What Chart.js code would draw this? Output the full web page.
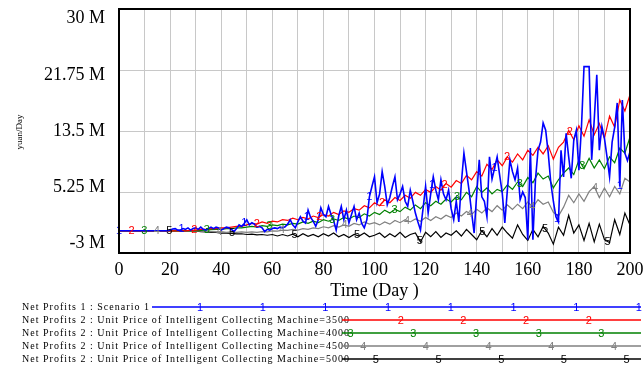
<!DOCTYPE html>
<html>
<head>
<meta charset="utf-8">
<script src="https://cdn.jsdelivr.net/npm/chart.js@4/dist/chart.umd.min.js"></script>
<style>
  html, body { margin: 0; padding: 0; background: #fff; }
  canvas { display: block; }
</style>
</head>
<body>
<canvas id="vensimChart" width="644" height="367"></canvas>
<script>
// Time axis: scenario 1 was read day by day, the others every 2 days
const daysDaily = Array.from({ length: 201 }, (_, i) => i);
const daysEvery2 = Array.from({ length: 101 }, (_, i) => i * 2);

const xGrid = [0, 10, 20, 30, 40, 50, 60, 70, 80, 90, 100, 110, 120, 130, 140, 150, 160, 170, 180, 190, 200];
const xTickLabels = [0, 20, 40, 60, 80, 100, 120, 140, 160, 180, 200];
const yTicks = [-3, 5.25, 13.5, 21.75, 30];

// values in millions of yuan/Day
const scenario1 = [
  0, 0, 0, 0, 0, 0, 0, 0, 0, 0, 0, 0, 0, 0, 0, 0, 0, 0, 0, 0,
  0.1, 0.25, 0.3, 0.1, 0.1, 0.3, 0.2, 0.4, 0.1, 0.3,
  0.4, 0.2, 0.5, 0.2, 0.1, 0.3, 0.5, 0.3, 0.5, 0.4,
  0.1, 0.3, 0.5, 0.4, 0.2, -0.1, 0.3, 0.8, 0.6, 1.0,
  1.5, 0.8, 1.1, 0.9, 0.5, 0.6, 0.4, -0.1, 0.2, 0.1,
  0.3, 0.4, 0.3, 0.5, 0.4, 0.55, 0.9, 1.5, 0.8, 0.4,
  1.2, 1.9, 1.3, 1.05, 2.8, 1.8, 1.3, 0.6, 1.5, 3.1,
  2.2, 1.9, 3.3, 2.2, 1.4, 0.1, 2.0, 3.3, 1.5, 2.8,
  1.05, 2.2, 3.3, 1.5, 2.4, 1.0, 0.4, 1.5, 4.6, 6.0,
  7.3, 3.8, 5.0, 8.0, 6.0, 3.5, 4.5, 6.0, 7.3, 4.2,
  5.0, 6.0, 4.0, 3.3, 5.5, 4.0, 2.4, 1.2, 0.1, 3.0,
  6.0, 2.4, 5.0, 7.3, 5.5, 4.2, 6.9, 5.0, 4.2, 5.5,
  3.0, 1.5, 4.0, 1.2, 6.5, 10.5, 8.0, 5.5, 2.5, -0.3,
  5.0, 9.6, 4.6, 4.0, 1.9, 10.0, 7.0, 8.5, 10.0, 7.5,
  5.1, 1.05, 5.5, 9.6, 8.0, 6.9, 8.5, 4.2, 5.25, 4.5,
  -1.2, 11.2, -1.2, 6.9, 10.9, 12.0, 14.6, 13.6, 10.5, 6.5,
  4.0, 1.9, 1.2, 10.9, 7.3, 13.2, 10.0, 7.1, 12.3, 13.6,
  8.2, 14.0, 22.2, 22.2, 22.2, 9.6, 15.0, 21.1, 10.9, 14.1,
  12.5, 10.0, 7.3, 12.0, 14.0, 17.3, 6.0, 17.7, 10.5, 9.5,
  10.7
];
const price3500 = [
  0, 0, 0, 0, 0, 0, 0, 0, 0, 0, 0, 0, 0, 0,
  0.05, 0.1, 0.2, 0.2, 0.3, 0.3, 0.4, 0.4, 0.5, 0.6, 0.6,
  0.8, 1.0, 0.9, 1.2, 1.0, 1.3, 1.2, 1.5, 1.4, 1.7,
  1.5, 1.8, 1.6, 2.0, 1.8, 2.2, 2.0, 2.5, 2.2, 2.7,
  2.5, 3.0, 2.8, 3.4, 3.1, 3.8, 3.4, 4.2, 3.8, 4.5,
  4.1, 4.8, 4.4, 5.2, 4.8, 5.6, 5.2, 6.0, 5.5, 6.4,
  5.9, 6.8, 6.4, 7.5, 6.9, 8.0, 7.4, 9.0, 8.3, 9.6,
  8.8, 10.0, 9.3, 10.4, 9.6, 10.9, 10.2, 11.3, 10.4, 11.5,
  9.7, 11.3, 12.0, 13.6, 12.3, 14.2, 12.8, 15.0, 13.0, 14.5,
  12.5, 15.5, 14.0, 17.7, 16.2, 18.4
];
const price4000 = [
  0, 0, 0, 0, 0, 0, 0, 0, 0, 0, 0, 0, 0, 0, 0, 0,
  0.05, 0.1, 0.15, 0.2, 0.2, 0.3, 0.3, 0.4, 0.4,
  0.5, 0.6, 0.5, 0.7, 0.6, 0.8, 0.7, 0.9, 0.8, 1.0,
  0.9, 1.2, 1.0, 1.3, 1.1, 1.5, 1.3, 1.6, 1.4, 1.8,
  1.6, 2.0, 1.8, 2.3, 2.0, 2.5, 2.2, 2.8, 2.4, 2.9,
  2.6, 3.2, 2.8, 3.5, 3.0, 3.8, 3.4, 4.0, 3.6, 4.3,
  3.9, 4.6, 4.2, 5.2, 4.6, 6.0, 5.2, 5.8, 5.0, 5.6,
  5.3, 6.2, 5.6, 6.6, 6.0, 7.2, 6.5, 7.8, 7.0, 7.4,
  5.8, 6.9, 7.8, 8.5, 7.6, 9.6, 8.4, 9.8, 8.5, 9.6,
  8.4, 10.0, 9.2, 11.2, 10.5, 12.7
];
const price4500 = [
  0, 0, 0, 0, 0, 0, 0, 0, 0, 0, 0, 0, 0, 0, 0, 0,
  -0.05, -0.1, -0.1, -0.15, -0.1, -0.2, -0.15, -0.2, -0.15,
  -0.2, -0.15, -0.2, -0.1, -0.15, 0.0, -0.05, 0.1, 0.05, 0.2,
  0.1, 0.3, 0.2, 0.4, 0.3, 0.55, 0.4, 0.7, 0.5, 0.8,
  0.6, 1.0, 0.8, 1.2, 0.9, 1.1, 0.8, 1.2, 0.9, 1.4,
  1.1, 1.5, 1.2, 1.6, 1.3, 1.8, 1.4, 1.9, 1.6, 2.1,
  1.8, 2.4, 2.0, 2.6, 2.2, 2.9, 2.4, 3.1, 2.6, 3.4,
  2.8, 3.5, 2.9, 3.6, 3.0, 3.9, 3.2, 4.2, 3.6, 3.9,
  2.5, 2.0, 3.2, 4.8, 3.8, 5.0, 4.0, 5.3, 6.0, 4.5,
  5.8, 4.6, 6.0, 5.0, 7.1, 6.6
];
const price5000 = [
  0, 0, 0, 0, 0, 0, 0, 0, 0, 0, 0, 0, 0, 0, 0, 0,
  -0.1, -0.15, -0.2, -0.2, -0.3, -0.3, -0.35, -0.4, -0.4,
  -0.5, -0.45, -0.55, -0.5, -0.6, -0.5, -0.7, -0.5, -0.7, -0.45,
  -0.8, -0.4, -0.75, -0.5, -0.8, -0.4, -0.7, -0.3, -0.8, -0.5,
  -0.9, -0.5, -0.7, -0.3, -0.8, -0.6, -0.3, -0.9, -0.4, -0.8,
  -0.2, -0.9, -0.5, -0.3, -1.5, -0.2, -0.8, -0.1, -0.9, -0.3,
  -0.6, 0.0, -0.7, 0.2, -0.5, -1.2, 0.0, -0.8, 0.3, -0.6,
  0.5, -0.3, -1.0, 0.8, -0.5, -1.3, 0.2, -0.8, 0.6, -0.3,
  -1.8, 0.5, -0.6, 2.1, -0.3, 0.8, -1.3, 1.0, -1.5, 0.9,
  -1.2, -1.6, 1.5, -0.5, 2.4, 0.8
];

const seriesLabels = [
  'Net Profits 1 : Scenario 1',
  'Net Profits 2 : Unit Price of Intelligent Collecting Machine=3500',
  'Net Profits 2 : Unit Price of Intelligent Collecting Machine=4000',
  'Net Profits 2 : Unit Price of Intelligent Collecting Machine=4500',
  'Net Profits 2 : Unit Price of Intelligent Collecting Machine=5000'
];
const colors = ['#0000ff', '#ff0000', '#008000', '#808080', '#000000'];

const toPoints = (xs, ys) => xs.map((x, i) => ({ x: x, y: ys[i] }));

const seriesData = [
  toPoints(daysDaily, scenario1),
  toPoints(daysEvery2, price3500),
  toPoints(daysEvery2, price4000),
  toPoints(daysEvery2, price4500),
  toPoints(daysEvery2, price5000)
];

const serif = '"Liberation Serif", "Times New Roman", serif';
const sans = '"Liberation Sans", Arial, sans-serif';

// pixel position on a drawn line at a given day (between two drawn points)
function pointOnLine(chart, dsIndex, day) {
  const meta = chart.getDatasetMeta(dsIndex);
  const pts = chart.data.datasets[dsIndex].data;
  for (let i = 0; i < pts.length - 1; i++) {
    if (day >= pts[i].x && day <= pts[i + 1].x) {
      const t = (day - pts[i].x) / (pts[i + 1].x - pts[i].x);
      const a = meta.data[i], b = meta.data[i + 1];
      return { x: a.x + (b.x - a.x) * t, y: a.y + (b.y - a.y) * t };
    }
  }
  const last = meta.data[meta.data.length - 1];
  return { x: last.x, y: last.y };
}

const vensimDecor = {
  id: 'vensimDecor',
  afterDatasetsDraw(chart) {
    // numbered markers along each line, like Vensim does
    const ctx = chart.ctx;
    ctx.save();
    ctx.font = '11px ' + sans;
    ctx.textAlign = 'center';
    ctx.textBaseline = 'middle';
    chart.data.datasets.forEach((ds, k) => {
      ctx.fillStyle = colors[k];
      for (let d = k * 4.93; d <= 200; d += 24.5) {
        const p = pointOnLine(chart, k, d);
        ctx.fillText(String(k + 1), p.x, p.y);
      }
    });
    ctx.restore();
  },
  afterDraw(chart) {
    const ctx = chart.ctx;
    const area = chart.chartArea;
    const xs = chart.scales.x;
    const ys = chart.scales.y;
    ctx.save();

    // frame
    ctx.strokeStyle = '#000';
    ctx.lineWidth = 2;
    ctx.strokeRect(area.left, area.top, area.right - area.left, area.bottom - area.top);

    // y tick labels, pulled a little toward the middle like the original
    const midY = (area.top + area.bottom) / 2;
    ctx.fillStyle = '#000';
    ctx.font = '18px ' + serif;
    ctx.textAlign = 'right';
    ctx.textBaseline = 'middle';
    yTicks.forEach(v => {
      const y = ys.getPixelForValue(v);
      ctx.fillText(v + ' M', 105, y + (midY - y) * 0.08);
    });

    // x tick labels
    ctx.textAlign = 'center';
    xTickLabels.forEach(v => {
      ctx.fillText(String(v), xs.getPixelForValue(v), 270);
    });

    // axis titles
    ctx.fillText('Time (Day )', (area.left + area.right) / 2, 291);
    ctx.save();
    ctx.translate(20, 132);
    ctx.rotate(-Math.PI / 2);
    ctx.font = '9px ' + serif;
    ctx.fillText('yuan/Day', 0, 0);
    ctx.restore();

    // legend
    const rowY = [307, 320, 333, 346, 359];
    const lineStart = [152, 342, 342, 342, 342];
    ctx.font = '10px ' + serif;
    const w0 = ctx.measureText(seriesLabels[1]).width;
    const spacing = Math.max(0, (328 - w0) / seriesLabels[1].length);
    seriesLabels.forEach((label, k) => {
      ctx.font = '10px ' + serif;
      ctx.letterSpacing = spacing + 'px';
      ctx.textAlign = 'left';
      ctx.textBaseline = 'middle';
      ctx.fillStyle = '#000';
      ctx.fillText(label, 22, rowY[k]);
      ctx.letterSpacing = '0px';

      ctx.strokeStyle = colors[k];
      ctx.lineWidth = 1.5;
      ctx.beginPath();
      ctx.moveTo(lineStart[k], rowY[k]);
      ctx.lineTo(641, rowY[k]);
      ctx.stroke();

      ctx.font = '11px ' + sans;
      ctx.textAlign = 'center';
      ctx.fillStyle = colors[k];
      for (let n = 0; n < 12; n++) {
        const mx = 200 + 12.6 * k + 62.7 * n;
        if (mx >= lineStart[k] + 3 && mx <= 642) ctx.fillText(String(k + 1), mx, rowY[k] + 1);
      }
    });
    ctx.restore();
  }
};

const chart = new Chart(document.getElementById('vensimChart').getContext('2d'), {
  type: 'line',
  data: {
    datasets: seriesData.map((pts, k) => ({
      label: seriesLabels[k],
      data: pts,
      borderColor: colors[k],
      borderWidth: k === 0 ? 1.6 : 1.2,
      pointRadius: 0,
      tension: 0,
      fill: false
    }))
  },
  options: {
    responsive: false,
    animation: false,
    devicePixelRatio: 1,
    layout: { padding: { left: 119, right: 14, top: 9, bottom: 114 } },
    plugins: { legend: { display: false }, tooltip: { enabled: false } },
    scales: {
      x: {
        type: 'linear',
        min: 0,
        max: 200,
        afterBuildTicks: s => { s.ticks = xGrid.map(v => ({ value: v })); },
        ticks: { display: false },
        grid: { color: '#c8c8c8', lineWidth: 1, drawTicks: false },
        border: { display: false }
      },
      y: {
        type: 'linear',
        min: -3,
        max: 30,
        afterBuildTicks: s => { s.ticks = yTicks.map(v => ({ value: v })); },
        ticks: { display: false },
        grid: { color: '#c8c8c8', lineWidth: 1, drawTicks: false },
        border: { display: false }
      }
    }
  },
  plugins: [vensimDecor]
});
</script>
</body>
</html>
